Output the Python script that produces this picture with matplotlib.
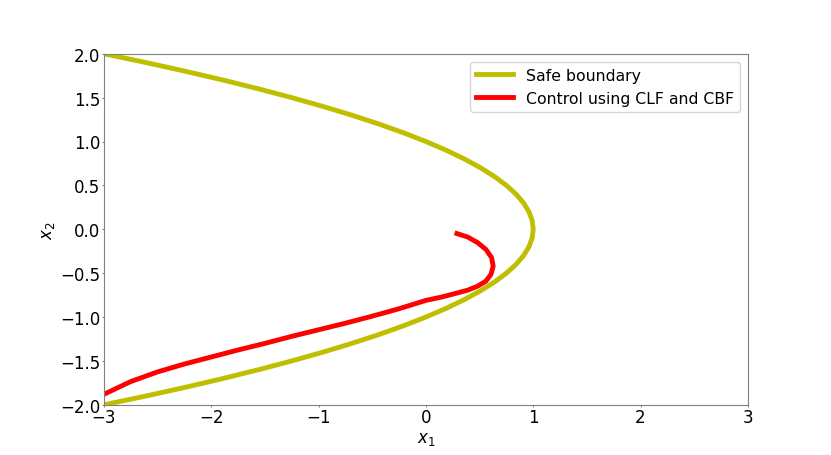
import numpy as np
import matplotlib.pyplot as plt

# safe boundary points (x1, x2)
safe_x2 = [2.0, 1.9, 1.8, 1.7, 1.6, 1.5, 1.4, 1.3, 1.2, 1.1, 1.0,
           0.9, 0.8, 0.7, 0.6, 0.5, 0.4, 0.3, 0.2, 0.1, 0.0,
           -0.1, -0.2, -0.3, -0.4, -0.5, -0.6, -0.7, -0.8, -0.9, -1.0,
           -1.1, -1.2, -1.3, -1.4, -1.5, -1.6, -1.7, -1.8, -1.9, -2.0]
safe_x1 = [-3.0, -2.61, -2.24, -1.89, -1.56, -1.25, -0.96, -0.69, -0.44, -0.21, 0.0,
           0.19, 0.36, 0.51, 0.64, 0.75, 0.84, 0.91, 0.96, 0.99, 1.0,
           0.99, 0.96, 0.91, 0.84, 0.75, 0.64, 0.51, 0.36, 0.19, 0.0,
           -0.21, -0.44, -0.69, -0.96, -1.25, -1.56, -1.89, -2.24, -2.61, -3.0]

# trajectory under CLF + CBF control
traj_x1 = [0.289, 0.389, 0.482, 0.559, 0.612, 0.627, 0.606, 0.559, 0.482, 0.389, 0.264, 0.140,
           0.0, -0.25, -0.5, -0.75, -1.0, -1.25, -1.5, -1.75, -2.0, -2.25, -2.5, -2.75, -3.0]
traj_x2 = [-0.049, -0.088, -0.152, -0.229, -0.323, -0.419, -0.514, -0.591, -0.648, -0.694, -0.735, -0.774,
           -0.81, -0.905, -0.99, -1.07, -1.145, -1.22, -1.30, -1.375, -1.455, -1.535, -1.625, -1.735, -1.88]

plt.rcParams['font.size'] = 12
plt.rcParams['axes.edgecolor'] = 'gray'
plt.rcParams['xtick.color'] = 'gray'
plt.rcParams['ytick.color'] = 'gray'
plt.rcParams['xtick.labelcolor'] = 'black'
plt.rcParams['ytick.labelcolor'] = 'black'
plt.rcParams['xtick.major.size'] = 1.5
plt.rcParams['ytick.major.size'] = 1.5
plt.rcParams['xtick.major.pad'] = 1
plt.rcParams['ytick.major.pad'] = 1

fig, ax = plt.subplots(figsize=(8.31, 4.56), dpi=100)
ax.plot(safe_x1, safe_x2, color='y', linewidth=3.5, label='Safe boundary')
ax.plot(traj_x1, traj_x2, color='r', linewidth=3.5, label='Control using CLF and CBF')
ax.set_xlim(-3, 3)
ax.set_ylim(-2, 2)
ax.set_xlabel('$x_1$', labelpad=2)
ax.set_ylabel('$x_2$', labelpad=2)
ax.legend(loc='upper right', fontsize=11.3, handlelength=2.35)
plt.savefig('out.png')
